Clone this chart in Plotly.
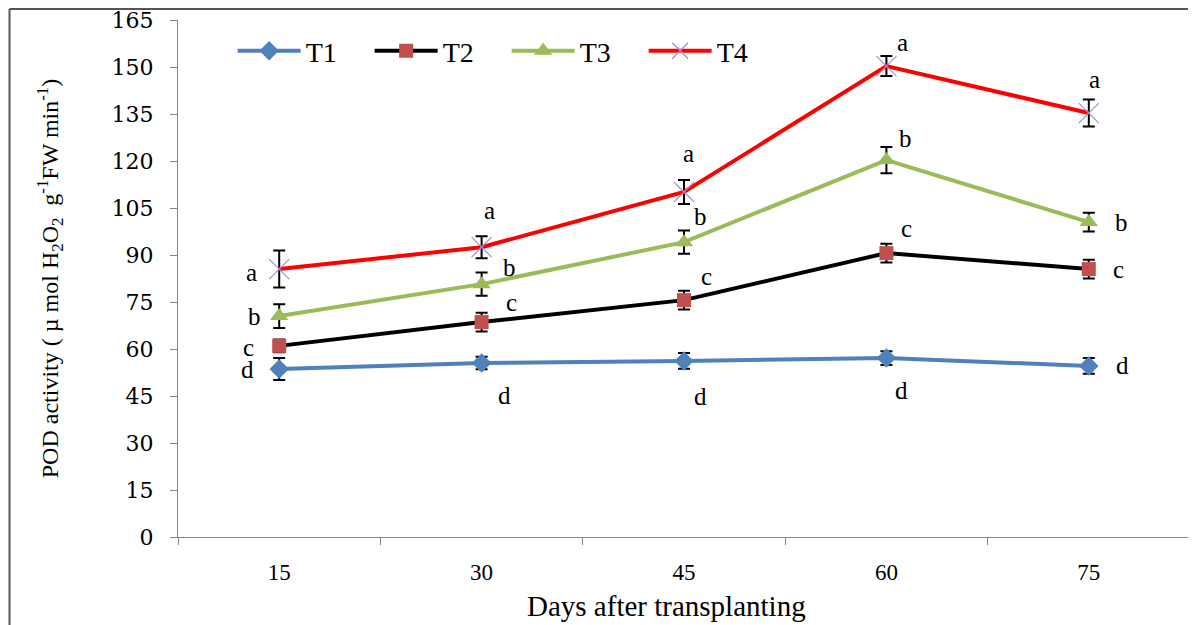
import plotly.graph_objects as go

days = ["15", "30", "45", "60", "75"]
series_names = ["T1", "T2", "T3", "T4"]
T1 = [53.6, 55.5, 56.2, 57.1, 54.6]
T2 = [61.0, 68.6, 75.6, 90.6, 85.5]
T3 = [70.5, 80.7, 94.1, 120.3, 100.5]
T4 = [85.5, 92.5, 110.1, 150.3, 135.3]
T1_err = [3.5, 2.0, 2.5, 2.2, 2.5]
T2_err = [2.0, 3.0, 3.0, 3.0, 3.0]
T3_err = [3.8, 3.7, 3.7, 4.2, 3.0]
T4_err = [5.9, 3.5, 3.8, 3.2, 4.3]
T1_letters = ["d", "d", "d", "d", "d"]
T2_letters = ["c", "c", "c", "c", "c"]
T3_letters = ["b", "b", "b", "b", "b"]
T4_letters = ["a", "a", "a", "a", "a"]
y_ticks = [0, 15, 30, 45, 60, 75, 90, 105, 120, 135, 150, 165]
x_title = "Days after transplanting"
y_title = "POD activity ( µ mol H<sub>2</sub>O<sub>2</sub>  g<sup>-1</sup>FW min<sup>-1</sup>)"

values = [T1, T2, T3, T4]
errors = [T1_err, T2_err, T3_err, T4_err]
letters = [T1_letters, T2_letters, T3_letters, T4_letters]

line_colors = ["#4f81bd", "#000000", "#9bbb59", "#ff0000"]
marker_colors = ["#4f81bd", "#c0504d", "#9bbb59", "#9d8fd4"]
symbols = ["diamond", "square", "triangle-up", "x-thin"]
marker_sizes = [15, 14, 16, 20]

# pixel offsets (xshift, yshift) of significance letters (style, not data)
letter_shift = [
    [(-32, 0), (23, -32), (16, -36), (15, -32), (34, 0)],
    [(-31, -2), (30, 20), (22, 24), (20, 25), (30, 0)],
    [(-25, 0), (28, 17), (16, 26), (19, 22), (33, 0)],
    [(-28, -3), (8, 37), (4, 39), (16, 24), (6, 34)],
]

serif = "Liberation Serif, Times New Roman, serif"
wide_serif = "DejaVu Serif, serif"

fig = go.Figure()
for i, name in enumerate(series_names):
    mk = dict(symbol=symbols[i], size=marker_sizes[i], color=marker_colors[i])
    if symbols[i] == "x-thin":
        mk["line"] = dict(color=marker_colors[i], width=1.2)
    else:
        mk["line"] = dict(width=0)
    fig.add_trace(go.Scatter(
        x=days, y=values[i], name=name, mode="lines+markers",
        line=dict(color=line_colors[i], width=4),
        marker=mk,
        error_y=dict(type="data", array=errors[i], visible=True,
                     color="#000000", thickness=2, width=6),
    ))
    for j in range(len(days)):
        dx, dy = letter_shift[i][j]
        fig.add_annotation(x=j, y=values[i][j], xref="x", yref="y",
                           text=letters[i][j], showarrow=False,
                           xshift=dx, yshift=dy,
                           font=dict(family=serif, size=25, color="#000000"))

# x-axis title placed as an annotation (slightly left of centre, as in the source)
fig.add_annotation(xref="paper", yref="paper", x=0.483, y=-0.1335,
                   xanchor="center", yanchor="middle", showarrow=False,
                   text=x_title, font=dict(family=serif, size=29, color="#000000"))

# page body has an 8px margin, so margins are offset by 8px
fig.update_layout(
    width=1196, height=625,
    margin=dict(l=170, r=14, t=12, b=96, autoexpand=False),
    paper_bgcolor="white", plot_bgcolor="white",
    font=dict(family=serif, size=20, color="#000000"),
    showlegend=True,
    legend=dict(orientation="h", x=0.054, y=0.94, xanchor="left", yanchor="middle",
                font=dict(family=serif, size=28), bgcolor="rgba(0,0,0,0)",
                itemwidth=63, entrywidthmode="pixels", entrywidth=59,
                tracegroupgap=0),
    xaxis=dict(type="category", range=[-0.5, 4.5], showline=True, linecolor="#868686",
               linewidth=1, ticks="outside", tickson="boundaries", ticklen=7,
               tickcolor="#868686", showgrid=False, zeroline=False,
               ticklabelstandoff=14, automargin=False,
               tickfont=dict(family=serif, size=23)),
    yaxis=dict(range=[0, 165], tickvals=y_ticks, showline=True, linecolor="#868686",
               linewidth=1, ticks="outside", ticklen=7, tickcolor="#868686",
               showgrid=False, zeroline=False, ticklabelstandoff=12,
               ticklabeloverflow="allow", automargin=False,
               tickfont=dict(family=wide_serif, size=22),
               title=dict(text=y_title, standoff=46, font=dict(family=serif, size=24))),
)

# figure frame (left and top edges visible)
fx = -168.5 / 1012
fy = 1 + 11 / 517
fig.add_shape(type="line", xref="paper", yref="paper",
              x0=fx, x1=1.05, y0=fy, y1=fy,
              line=dict(color="#555555", width=2))
fig.add_shape(type="line", xref="paper", yref="paper",
              x0=fx, x1=fx, y0=-0.25, y1=fy,
              line=dict(color="#555555", width=2))

fig.write_html("out.html")
